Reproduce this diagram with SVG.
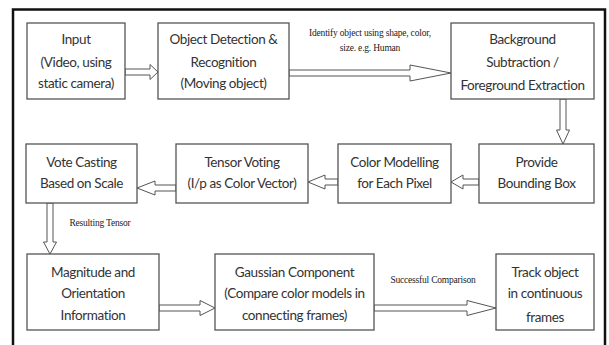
<svg xmlns="http://www.w3.org/2000/svg" width="609" height="345" viewBox="0 0 609 345">
<style>
.box{fill:#fff;stroke:#555;stroke-width:1.3}
.t{font-family:Lato,"Liberation Sans",sans-serif;font-size:13.5px;letter-spacing:-0.4px;fill:#333;text-anchor:middle}
.lbl{font-family:"Liberation Serif",serif;font-size:9.5px;fill:#222;text-anchor:middle;letter-spacing:-0.2px}
.arr{fill:#fff;stroke:#555;stroke-width:1;stroke-linejoin:miter}
</style>
<rect width="609" height="345" fill="#fff"/>
<path d="M13,360 V9.5 H605 V360" fill="none" stroke="#111" stroke-width="2.5"/>
<g id="connectors">
<path class="arr" d="M125,69 H150 V64.5 L158,72 L150,79.5 V75 H125 Z"/>
<path class="arr" d="M289,70 H410 V65 L451,73 L410,81 V76 H289 Z"/>
<path class="arr" d="M560,99 V130 H556.5 L563,144 L569.5,130 H566 V99 Z"/>
<path class="arr" d="M479,179 H463 V175 L451,182 L463,189 V185 H479 Z"/>
<path class="arr" d="M338,179 H325 V175 L308,182 L325,189 V185 H338 Z"/>
<path class="arr" d="M176,185 H155 V181 L137,188 L155,195 V191 H176 Z"/>
<path class="arr" d="M47,203 V242 H43.5 L50,254 L56.5,242 H53 V203 Z"/>
<path class="arr" d="M159,305 H200 V300.5 L215,308 L200,315.5 V311 H159 Z"/>
<path class="arr" d="M374,305 H467 V300.5 L496,308 L467,315.5 V311 H374 Z"/>
<text class="lbl" x="370" y="36">Identify object using shape, color,</text>
<text class="lbl" x="370" y="51">size. e.g. Human</text>
<text class="lbl" x="100" y="226">Resulting Tensor</text>
<text class="lbl" x="433" y="283">Successful Comparison</text>
</g>
<g id="input">
<rect class="box" x="27" y="23" width="98" height="76"/>
<text class="t" x="76" y="44">Input</text>
<text class="t" x="76" y="67">(Video, using</text>
<text class="t" x="76" y="88">static camera)</text>
</g>
<g id="detection">
<rect class="box" x="158" y="23" width="131" height="76"/>
<text class="t" x="223.5" y="44">Object Detection &amp;</text>
<text class="t" x="223.5" y="67">Recognition</text>
<text class="t" x="223.5" y="88">(Moving object)</text>
</g>
<g id="background">
<rect class="box" x="451" y="23" width="143" height="76"/>
<text class="t" x="522.5" y="44">Background</text>
<text class="t" x="522.5" y="67">Subtraction /</text>
<text class="t" x="522.5" y="90">Foreground Extraction</text>
</g>
<g id="bounding">
<rect class="box" x="479" y="144" width="115" height="59"/>
<text class="t" x="536.5" y="167">Provide</text>
<text class="t" x="536.5" y="188">Bounding Box</text>
</g>
<g id="color">
<rect class="box" x="338" y="144" width="113" height="59"/>
<text class="t" x="394.5" y="167">Color Modelling</text>
<text class="t" x="394.5" y="188">for Each Pixel</text>
</g>
<g id="tensor">
<rect class="box" x="176" y="144" width="132" height="59"/>
<text class="t" x="242" y="167">Tensor Voting</text>
<text class="t" x="242" y="188">(I/p as Color Vector)</text>
</g>
<g id="vote">
<rect class="box" x="26" y="144" width="111" height="59"/>
<text class="t" x="81.5" y="167">Vote Casting</text>
<text class="t" x="81.5" y="188">Based on Scale</text>
</g>
<g id="magnitude">
<rect class="box" x="27" y="254" width="132" height="76"/>
<text class="t" x="93" y="277">Magnitude and</text>
<text class="t" x="93" y="298">Orientation</text>
<text class="t" x="93" y="320">Information</text>
</g>
<g id="gaussian">
<rect class="box" x="215" y="254" width="159" height="76"/>
<text class="t" x="294.5" y="277">Gaussian Component</text>
<text class="t" x="294.5" y="298">(Compare color models in</text>
<text class="t" x="294.5" y="320">connecting frames)</text>
</g>
<g id="track">
<rect class="box" x="496" y="254" width="98" height="76"/>
<text class="t" x="545" y="277">Track object</text>
<text class="t" x="545" y="298">in continuous</text>
<text class="t" x="545" y="322">frames</text>
</g>
</svg>
